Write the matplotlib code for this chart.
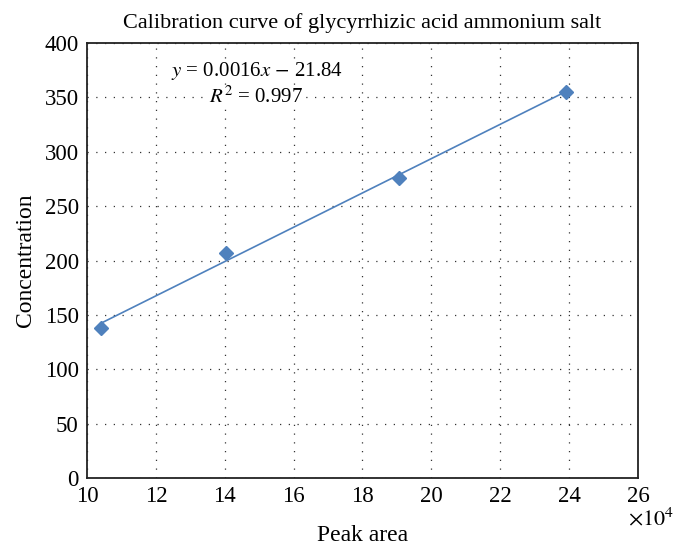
import matplotlib.pyplot as plt
import numpy as np

plt.rcParams['font.family'] = ['Liberation Serif', 'DejaVu Serif']
plt.rcParams['mathtext.fontset'] = 'stix'

# --- data (peak area in units of 1e4) --------------------------------------
peak_area = [10.4, 14.05, 19.05, 23.9]
conc = [138, 207, 276, 355]
xticks = [10, 12, 14, 16, 18, 20, 22, 24, 26]
yticks = [0, 50, 100, 150, 200, 250, 300, 350, 400]
# --------------------------------------------------------------------------

blue = '#4F81BD'

fig = plt.figure(figsize=(6.83, 5.48), dpi=100)
ax = fig.add_axes([0.1274, 0.1277, 0.8066, 0.7938])

# linear trend line
a, b = np.polyfit(peak_area, conc, 1)
xs = np.array([peak_area[0], peak_area[-1]])
ax.plot(xs, a * xs + b, color=blue, lw=1.2, zorder=2)
ax.plot(peak_area, conc, ls='none', marker='D', ms=7, color=blue, zorder=3)

ax.set_xlim(10, 26)
ax.set_ylim(0, 400)
ax.set_xticks(xticks)
ax.set_yticks(yticks)
ax.tick_params(length=0, labelsize=16.5, pad=6)
ax.grid(True, color='#333333', ls=(0, (1, 6)), lw=0.9)
for s in ax.spines.values():
    s.set_linewidth(1.3)
    s.set_color('#222222')

ax.set_title('Calibration curve of glycyrrhizic acid ammonium salt', fontsize=16, pad=11)
ax.set_ylabel('Concentration', fontsize=17, labelpad=6)
ax.set_xlabel('Peak area', fontsize=17, labelpad=13)
ax.text(0.982, -0.095, r'$\times10^4$', transform=ax.transAxes, fontsize=16,
        ha='left', va='center')

ax.text(0.152, 0.935, r'$y$ = 0.0016$x$ $-$ 21.84', transform=ax.transAxes,
        fontsize=15, ha='left', va='center',
        bbox=dict(facecolor='white', edgecolor='none', pad=0.5))
ax.text(0.222, 0.875, r'$R^2$ = 0.997', transform=ax.transAxes,
        fontsize=15, ha='left', va='center',
        bbox=dict(facecolor='white', edgecolor='none', pad=0.5))

plt.savefig('out.png', dpi=100)
